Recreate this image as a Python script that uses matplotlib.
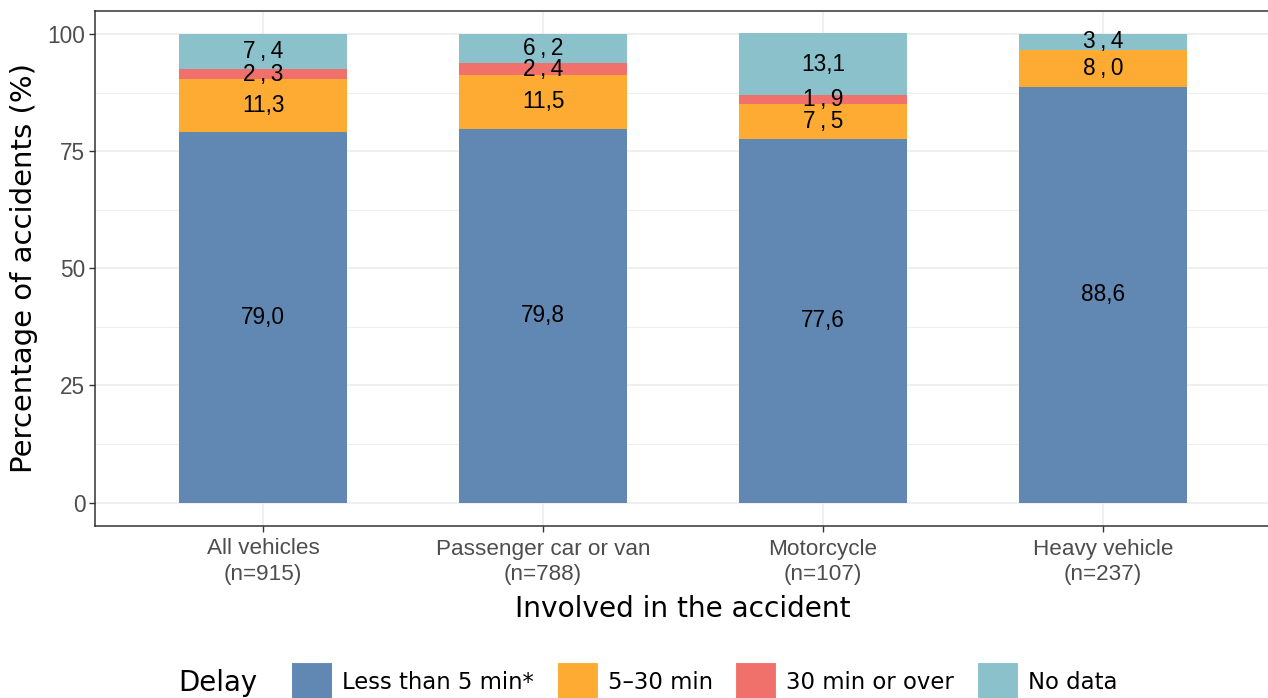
import matplotlib
matplotlib.use("Agg")
import matplotlib.pyplot as plt
from matplotlib.patches import Patch
import numpy as np

categories = ["All vehicles\n(n=915)", "Passenger car or van\n(n=788)",
              "Motorcycle\n(n=107)", "Heavy vehicle\n(n=237)"]
series_names = ["Less than 5 min*", "5–30 min", "30 min or over", "No data"]
less5 = [79.0, 79.8, 77.6, 88.6]
min5_30 = [11.3, 11.5, 7.5, 8.0]
min30plus = [2.3, 2.4, 1.9, 0.0]
no_data = [7.4, 6.2, 13.1, 3.4]
colors = ["#6187B3", "#FDAB33", "#F0706B", "#8AC1CA"]
yticks = [0, 25, 50, 75, 100]

def fmt(v):
    whole, dec = f"{v:.1f}".split(".")
    if v < 10:
        return f"{whole}\u2009,\u2009{dec}"
    return f"{whole},{dec}"

W, H = 1268, 698
fig = plt.figure(figsize=(W / 100, H / 100), dpi=100)
ax = fig.add_axes([95 / W, 1 - 526 / H, (1271 - 95) / W, (526 - 10.5) / H])

x = np.arange(1, len(categories) + 1)
bottom = np.zeros(len(categories))
for vals, col in zip([less5, min5_30, min30plus, no_data], colors):
    vals = np.array(vals)
    ax.bar(x, vals, width=0.6, bottom=bottom, color=col, zorder=2)
    for xi, b, v in zip(x, bottom, vals):
        if v > 0:
            ax.text(xi, b + v / 2, fmt(v), ha="center", va="center",
                    fontsize=16.3, family="Liberation Sans", color="black", zorder=3)
    bottom += vals

ax.set_xlim(0.4, 4.6)
ax.set_ylim(-5, 105)
ax.set_yticks(yticks)
ax.set_yticks([12.5, 37.5, 62.5, 87.5], minor=True)
ax.set_xticks(x)
ax.set_xticklabels(categories, family="Liberation Sans", fontsize=16.2, color="#4D4D4D",
                   linespacing=1.3)
for lab in ax.get_yticklabels():
    lab.set_family("Liberation Sans")
    lab.set_fontsize(16.3)
    lab.set_color("#4D4D4D")
ax.tick_params(axis="both", which="major", length=4, width=1, color="#333333", pad=3)
ax.tick_params(axis="x", which="major", pad=5)
ax.tick_params(axis="y", which="minor", length=0)
ax.grid(True, which="major", color="#EBEBEB", linewidth=1.1, zorder=0)
ax.grid(True, which="minor", axis="y", color="#EBEBEB", linewidth=0.6, zorder=0)
ax.set_axisbelow(True)
for s in ax.spines.values():
    s.set_color("#333333")
    s.set_linewidth(1.1)

ax.set_ylabel("Percentage of accidents (%)", family="DejaVu Sans", fontsize=21, labelpad=7)
ax.set_xlabel("Involved in the accident", family="DejaVu Sans", fontsize=20.2, labelpad=7)

handles = [Patch(facecolor=c, edgecolor="white", linewidth=0.8) for c in colors]
fig.text(178 / W, 1 - 683 / H, "Delay", family="DejaVu Sans", fontsize=19.8, va="center", ha="left")
fs = 16.4
leg = fig.legend(handles, series_names, ncol=4, loc="center left",
                 bbox_to_anchor=(291 / W, 1 - 681.5 / H), frameon=False,
                 prop={"family": "DejaVu Sans", "size": fs},
                 handlelength=1.8, handleheight=2.2, handletextpad=0.44,
                 columnspacing=1.0, borderaxespad=0, borderpad=0)

fig.savefig("out.png", dpi=100)
